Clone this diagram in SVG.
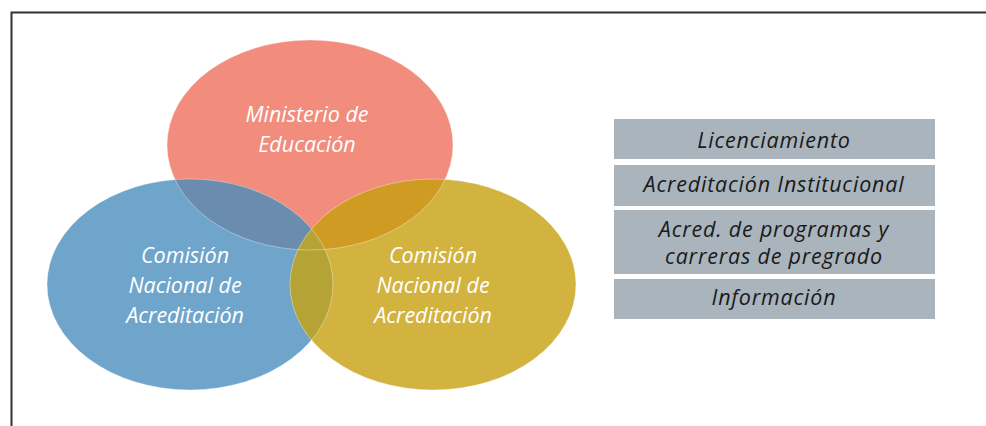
<svg xmlns="http://www.w3.org/2000/svg" width="986" height="426" viewBox="0 0 986 426">
<style>
.lbl{font-family:"Open Sans","Liberation Sans",sans-serif;font-style:italic;font-size:21.5px;fill:#ffffff;text-anchor:middle}
.btxt{font-family:"Open Sans","Liberation Sans",sans-serif;font-style:italic;font-size:21.5px;letter-spacing:0.8px;fill:#1a1a1a;text-anchor:middle}
.box{fill:#a9b4bc}
.edge{fill:none;stroke:#ffffff;stroke-opacity:0.35;stroke-width:1}
</style>
<defs>
<clipPath id="cRed"><ellipse cx="310" cy="145" rx="143" ry="105"/></clipPath>
<clipPath id="cBlue"><ellipse cx="190" cy="284.5" rx="143" ry="105.5"/></clipPath>
</defs>
<rect width="986" height="426" fill="#ffffff"/>
<path d="M11.5 426 V12.5 H986" fill="none" stroke="#333333" stroke-width="2"/>
<g id="venn">
<g id="ministerio">
<ellipse cx="310" cy="145" rx="143" ry="105" fill="#f28c7d"/>
</g>
<g id="cna-blue">
<ellipse cx="190" cy="284.5" rx="143" ry="105.5" fill="#6fa5cb"/>
</g>
<g id="cna-yellow">
<ellipse cx="433" cy="284.5" rx="143" ry="105.5" fill="#d3b33f"/>
</g>
<g id="overlaps">
<ellipse cx="190" cy="284.5" rx="143" ry="105.5" fill="#6a8cae" clip-path="url(#cRed)"/>
<ellipse cx="433" cy="284.5" rx="143" ry="105.5" fill="#d09b22" clip-path="url(#cRed)"/>
<ellipse cx="433" cy="284.5" rx="143" ry="105.5" fill="#b5a335" clip-path="url(#cBlue)"/>
</g>
<g id="edges">
<ellipse class="edge" cx="310" cy="145" rx="143" ry="105"/>
<ellipse class="edge" cx="190" cy="284.5" rx="143" ry="105.5"/>
<ellipse class="edge" cx="433" cy="284.5" rx="143" ry="105.5"/>
</g>
<g id="labels">
<text class="lbl" x="307" y="122">Ministerio de</text>
<text class="lbl" x="307" y="152">Educación</text>
<text class="lbl" x="185" y="263">Comisión</text>
<text class="lbl" x="185" y="293">Nacional de</text>
<text class="lbl" x="185" y="323">Acreditación</text>
<text class="lbl" x="433" y="263">Comisión</text>
<text class="lbl" x="433" y="293">Nacional de</text>
<text class="lbl" x="433" y="323">Acreditación</text>
</g>
</g>
<g id="box1"><rect class="box" x="614" y="119" width="321" height="40"/><text class="btxt" x="774" y="148">Licenciamiento</text></g>
<g id="box2"><rect class="box" x="614" y="165" width="321" height="41"/><text class="btxt" x="774" y="192">Acreditación Institucional</text></g>
<g id="box3"><rect class="box" x="614" y="210" width="321" height="64"/><text class="btxt" x="774" y="237">Acred. de programas y</text><text class="btxt" x="774" y="264">carreras de pregrado</text></g>
<g id="box4"><rect class="box" x="614" y="279" width="321" height="40"/><text class="btxt" x="774" y="305">Información</text></g>
<g id="connectors"></g>
</svg>
